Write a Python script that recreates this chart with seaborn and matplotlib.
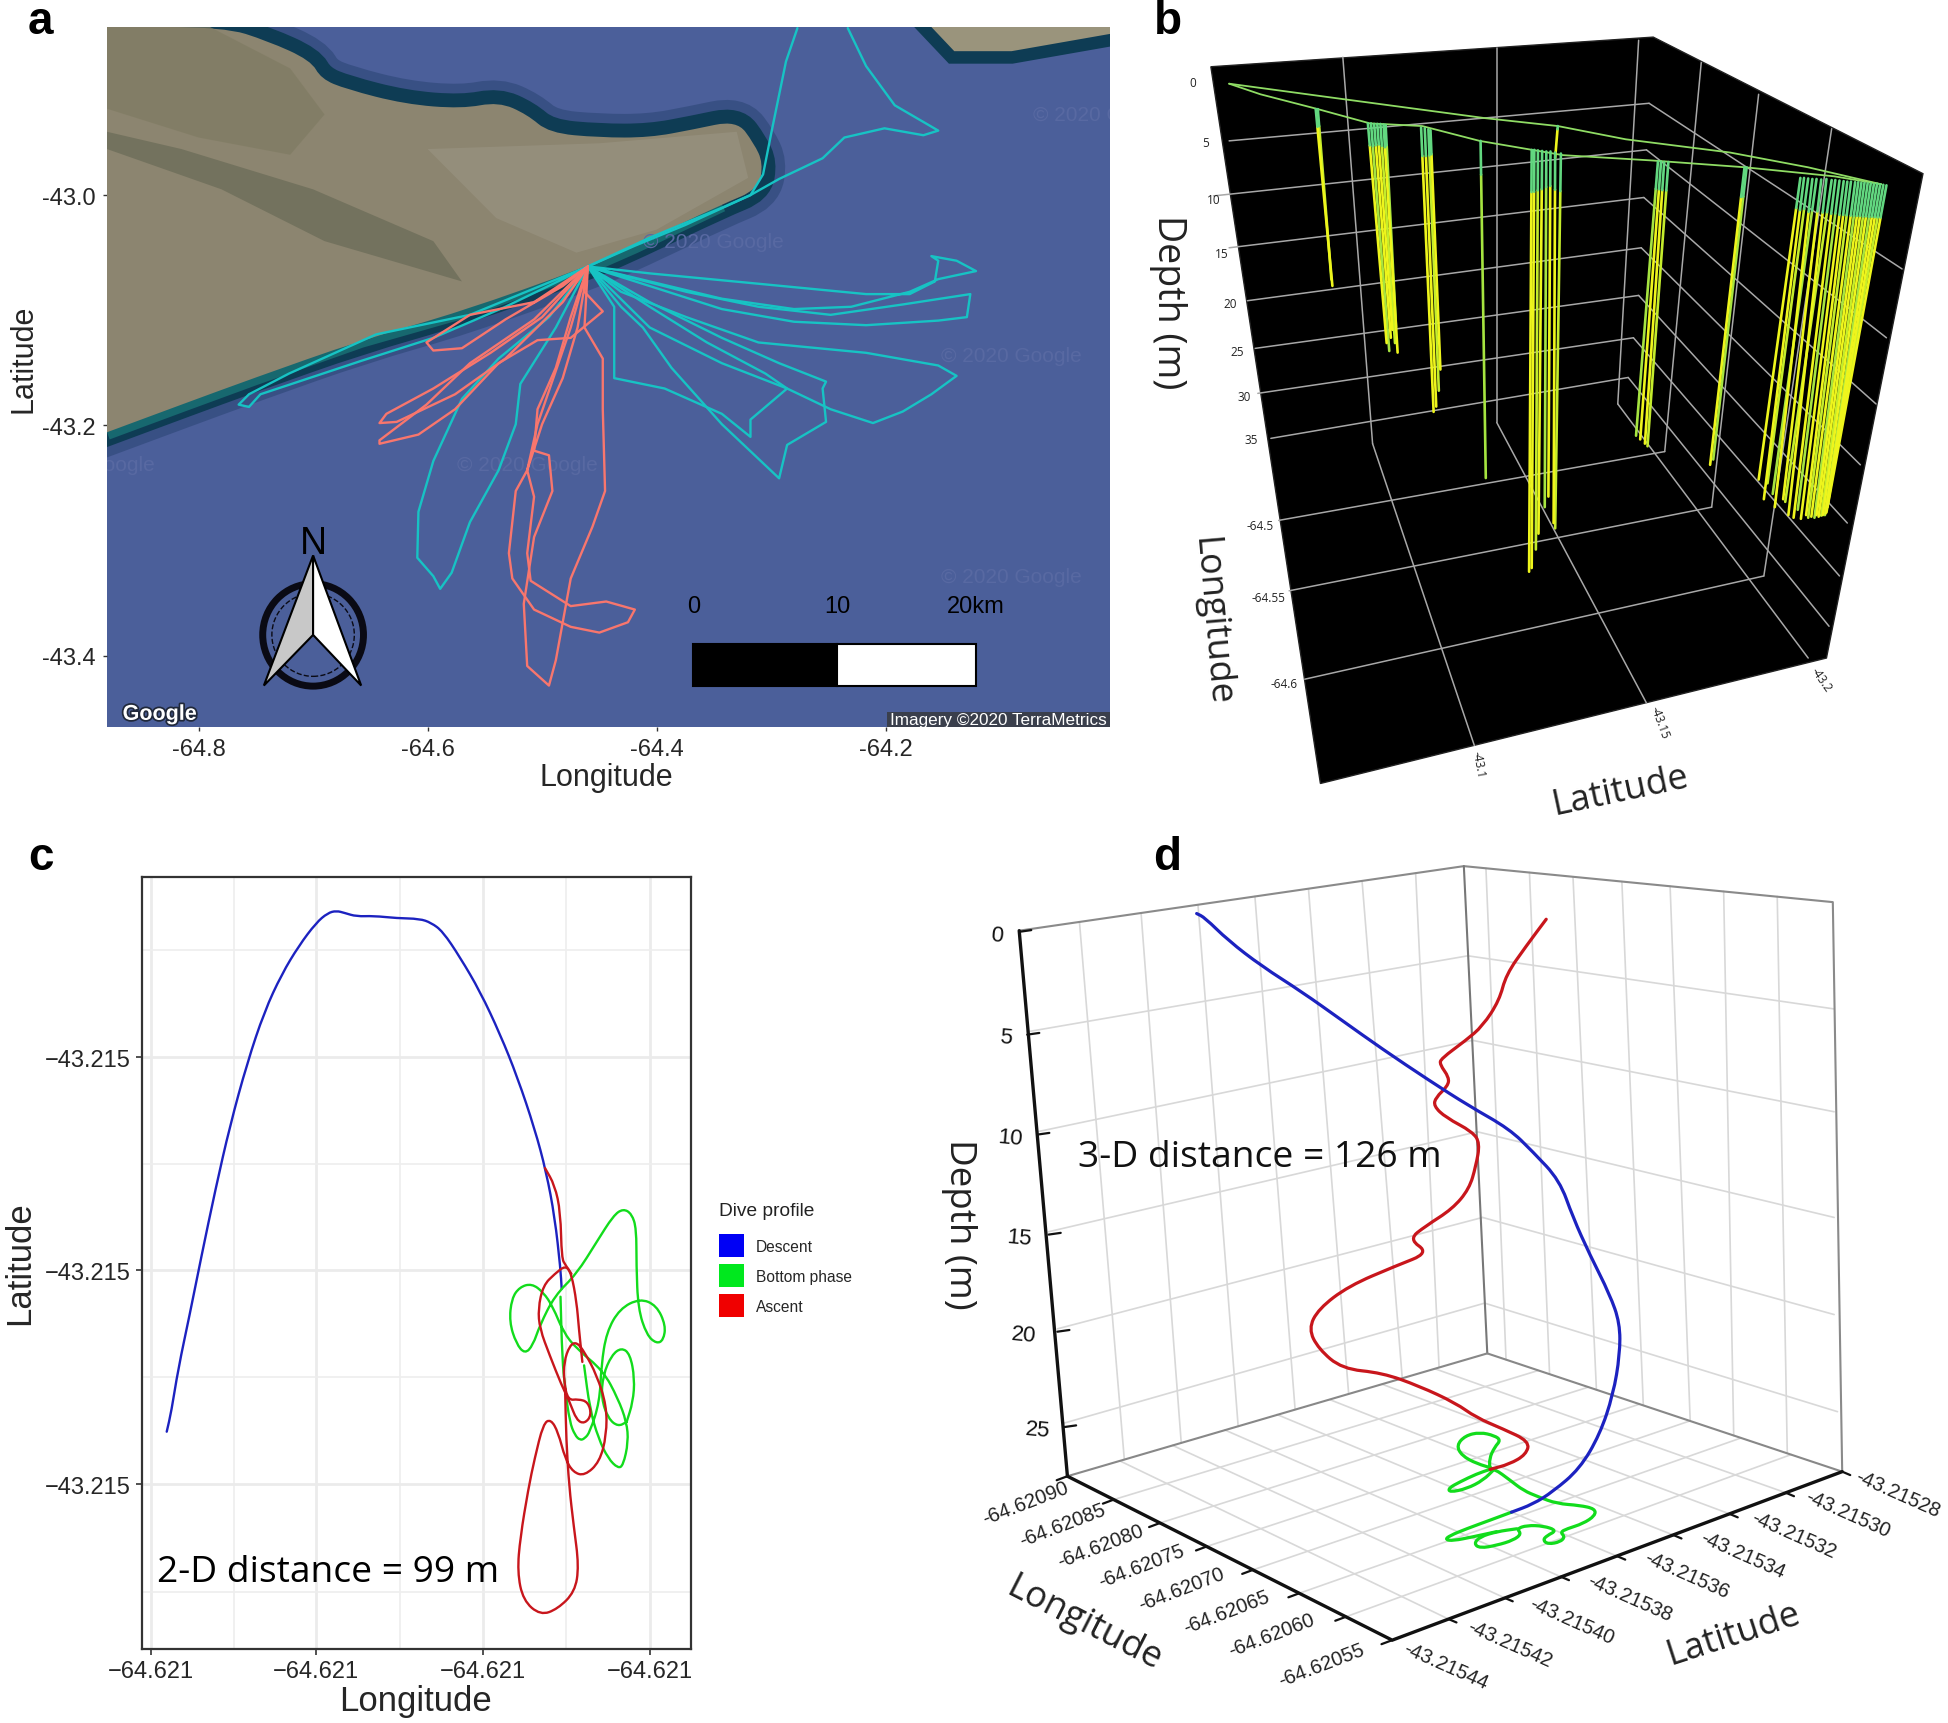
import numpy as np
import pandas as pd
import matplotlib
matplotlib.use("Agg")
import matplotlib.pyplot as plt
from matplotlib.patches import Patch, Ellipse, Polygon, Rectangle, PathPatch
from matplotlib.path import Path
import matplotlib.patheffects as pe
import seaborn as sns

sns.set_theme(style="white")
plt.rcParams["font.family"] = ["Liberation Sans", "DejaVu Sans"]
W, H = 1948, 1724
HUMAN = "Open Sans"

# ---------- panel a: map tracks (lon, lat) ----------
hub = (-64.460, -43.062)
a_teal = [
    [hub, (-64.406, -43.037), (-64.343, -43.011), (-64.318, -43.000), (-64.307, -42.982), (-64.299, -42.942), (-64.287, -42.884), (-64.277, -42.855)],
    [(-64.233, -42.855), (-64.217, -42.888), (-64.192, -42.922), (-64.154, -42.944), (-64.167, -42.948), (-64.201, -42.942), (-64.236, -42.950), (-64.255, -42.968), (-64.293, -42.986), (-64.318, -43.000), (-64.375, -43.026), (-64.419, -43.044), hub],
    [hub, (-64.406, -43.068), (-64.311, -43.077), (-64.217, -43.086), (-64.179, -43.086), (-64.157, -43.075), (-64.154, -43.057), (-64.160, -43.053), (-64.138, -43.057), (-64.121, -43.066), (-64.154, -43.073), (-64.179, -43.084), (-64.230, -43.097), (-64.280, -43.099), (-64.343, -43.090), (-64.406, -43.075), hub],
    [hub, (-64.374, -43.084), (-64.311, -43.097), (-64.248, -43.104), (-64.185, -43.095), (-64.126, -43.086), (-64.129, -43.106), (-64.154, -43.109), (-64.217, -43.113), (-64.280, -43.110), (-64.343, -43.099), (-64.406, -43.079), hub],
    [hub, (-64.431, -43.084), (-64.374, -43.106), (-64.311, -43.128), (-64.217, -43.137), (-64.154, -43.148), (-64.138, -43.157), (-64.160, -43.173), (-64.185, -43.188), (-64.211, -43.198), (-64.248, -43.186), (-64.286, -43.168), (-64.343, -43.146), (-64.406, -43.115), hub],
    [hub, (-64.437, -43.097), (-64.437, -43.159), (-64.393, -43.168), (-64.343, -43.190), (-64.318, -43.210), (-64.318, -43.195), (-64.286, -43.168), (-64.305, -43.155), (-64.356, -43.128), (-64.406, -43.097), hub],
    [hub, (-64.431, -43.097), (-64.412, -43.115), (-64.387, -43.150), (-64.343, -43.199), (-64.293, -43.246), (-64.286, -43.217), (-64.252, -43.197), (-64.255, -43.168), (-64.252, -43.162), (-64.293, -43.146), (-64.343, -43.124), (-64.406, -43.093), hub],
    [hub, (-64.488, -43.115), (-64.519, -43.164), (-64.523, -43.199), (-64.538, -43.239), (-64.563, -43.284), (-64.579, -43.328), (-64.589, -43.342), (-64.595, -43.331), (-64.609, -43.315), (-64.608, -43.275), (-64.595, -43.231), (-64.570, -43.177), (-64.538, -43.142), (-64.494, -43.106), hub],
    [hub, (-64.563, -43.104), (-64.645, -43.121), (-64.721, -43.155), (-64.756, -43.173), (-64.765, -43.182), (-64.756, -43.184), (-64.746, -43.173), (-64.658, -43.144), (-64.595, -43.124), (-64.532, -43.097), (-64.482, -43.073), hub],
]
a_salmon = [
    [hub, (-64.507, -43.093), (-64.563, -43.104), (-64.601, -43.128), (-64.595, -43.135), (-64.570, -43.133), (-64.532, -43.108), (-64.482, -43.079), hub],
    [hub, (-64.500, -43.106), (-64.545, -43.137), (-64.595, -43.168), (-64.636, -43.190), (-64.642, -43.198), (-64.627, -43.197), (-64.576, -43.173), (-64.532, -43.142), (-64.482, -43.093), hub],
    [hub, (-64.507, -43.108), (-64.563, -43.146), (-64.601, -43.182), (-64.642, -43.213), (-64.642, -43.216), (-64.608, -43.208), (-64.576, -43.186), (-64.538, -43.146), (-64.504, -43.126), (-64.475, -43.124), (-64.447, -43.101), (-64.463, -43.084), hub],
    [hub, (-64.469, -43.115), (-64.482, -43.159), (-64.500, -43.199), (-64.513, -43.239), (-64.523, -43.257), (-64.529, -43.311), (-64.526, -43.333), (-64.507, -43.360), (-64.475, -43.375), (-64.450, -43.380), (-64.425, -43.371), (-64.419, -43.360), (-64.444, -43.353), (-64.475, -43.357), (-64.510, -43.335), (-64.513, -43.311), (-64.507, -43.262), (-64.513, -43.239), (-64.504, -43.199), (-64.475, -43.115), hub],
    [hub, (-64.475, -43.106), (-64.488, -43.150), (-64.504, -43.186), (-64.507, -43.222), (-64.494, -43.226), (-64.491, -43.257), (-64.507, -43.297), (-64.516, -43.355), (-64.513, -43.409), (-64.494, -43.426), (-64.488, -43.404), (-64.475, -43.333), (-64.456, -43.288), (-64.445, -43.257), (-64.447, -43.186), (-64.447, -43.142), (-64.463, -43.115), hub],
]
a_land = [(-64.880, -42.854), (-64.778, -42.854), (-64.740, -42.866), (-64.702, -42.883), (-64.693, -42.899), (-64.671, -42.908), (-64.620, -42.921), (-64.570, -42.925), (-64.538, -42.919), (-64.513, -42.930), (-64.494, -42.946), (-64.450, -42.950), (-64.406, -42.950), (-64.368, -42.943), (-64.330, -42.935), (-64.315, -42.955), (-64.307, -42.972), (-64.311, -42.995), (-64.343, -43.008), (-64.419, -43.044), (-64.460, -43.062), (-64.570, -43.101), (-64.658, -43.126), (-64.752, -43.159), (-64.815, -43.182), (-64.880, -43.206)]
a_land_dark = [(-64.880, -42.960), (-64.780, -42.995), (-64.690, -43.040), (-64.570, -43.075), (-64.595, -43.040), (-64.700, -42.995), (-64.815, -42.960), (-64.880, -42.945)]
a_land_nw = [(-64.880, -42.854), (-64.790, -42.854), (-64.720, -42.890), (-64.690, -42.930), (-64.720, -42.965), (-64.800, -42.950), (-64.880, -42.925)]
a_land_light = [(-64.600, -42.960), (-64.450, -42.955), (-64.330, -42.945), (-64.320, -42.985), (-64.400, -43.030), (-64.470, -43.050), (-64.540, -43.020)]
a_land_ne = [(-64.160, -42.854), (-64.004, -42.854), (-64.004, -42.860), (-64.090, -42.875), (-64.140, -42.875)]
a_xticks = [-64.8, -64.6, -64.4, -64.2]
a_yticks = [-43.0, -43.2, -43.4]
a_marks = [(-64.010, -42.930), (-64.090, -43.139), (-64.090, -43.331), (-64.900, -43.234), (-64.513, -43.234), (-64.350, -43.040)]
scale_edges = [-64.368, -64.242, -64.121]
scale_labels = ["0", "10", "20km"]

# ---------- panel b: projected dive lines (top x, top y, bottom x, bottom y) ----------
b_box = [(155, 128), (1003, 72), (1520, 330), (1335, 1245), (365, 1482)]
b_grid = [(190, 268, 995, 197), (160, 372, 990, 285), (190, 470, 985, 375), (225, 570, 980, 470), (240, 660, 975, 560), (245, 745, 965, 640), (270, 830, 955, 715),
          (995, 197, 1480, 510), (990, 285, 1450, 640), (985, 375, 1430, 765), (980, 470, 1400, 880), (975, 560, 1375, 990), (965, 640, 1360, 1090), (955, 715, 1340, 1185),
          (408, 110, 465, 840), (703, 92, 703, 800), (975, 78, 935, 765), (1095, 120, 1025, 855), (1205, 180, 1115, 960), (1345, 245, 1215, 1090),
          (465, 840, 660, 1410), (703, 800, 990, 1330), (935, 765, 1300, 1245), (285, 985, 1025, 855), (305, 1118, 1115, 960), (335, 1285, 1215, 1090)]
b_surface_upper = [(190, 160), (400, 188), (680, 225), (820, 240), (950, 265), (1150, 290), (1300, 318), (1440, 350)]
b_surface_lower = [(190, 160), (250, 180), (360, 208), (460, 235), (560, 240), (670, 268), (830, 295), (1000, 305), (1180, 318), (1350, 335), (1440, 350)]
b_dives = [
    (356, 208, 388, 542), (360, 208, 386, 530),
    (456, 235, 492, 650), (462, 235, 497, 665), (468, 236, 500, 640), (474, 236, 503, 625), (480, 236, 508, 650), (486, 237, 513, 668), (490, 238, 510, 620),
    (558, 243, 582, 780), (565, 244, 587, 770), (572, 246, 592, 740), (576, 248, 595, 700),
    (672, 268, 682, 905),
    (770, 285, 765, 1082), (775, 285, 770, 1075), (782, 286, 778, 1040), (790, 287, 783, 1010), (798, 288, 795, 960), (806, 288, 802, 940), (815, 290, 812, 990), (826, 292, 815, 1000), (820, 240, 815, 300),
    (1012, 307, 970, 825), (1018, 307, 978, 832), (1024, 308, 987, 840), (1032, 308, 992, 845),
    (1178, 318, 1112, 880), (1182, 318, 1118, 870),
    (1285, 338, 1205, 908), (1292, 338, 1215, 945), (1300, 339, 1222, 915), (1308, 340, 1236, 960), (1316, 340, 1232, 935), (1325, 341, 1252, 945), (1335, 340, 1262, 975), (1345, 342, 1256, 950),
    (1352, 342, 1272, 980), (1360, 343, 1280, 965), (1368, 344, 1286, 982), (1375, 345, 1296, 975), (1382, 345, 1300, 980), (1390, 346, 1306, 978), (1396, 346, 1312, 980), (1402, 347, 1316, 975),
    (1408, 347, 1320, 978), (1414, 348, 1325, 976), (1420, 348, 1328, 975), (1426, 349, 1332, 975), (1432, 349, 1333, 972), (1438, 350, 1335, 970), (1444, 351, 1335, 965), (1450, 352, 1337, 960),
]
b_tones = ["bright", "lime", "bright", "soft", "bright"]
b_palette = {"top": "#62d880", "bright": "#eef51c", "lime": "#c4ec2c", "soft": "#a6e440"}
b_depth_ticks = [("0", 120, 158), ("5", 145, 272), ("10", 160, 378), ("15", 175, 480), ("20", 192, 575), ("25", 205, 665), ("30", 218, 750), ("35", 232, 833)]
b_lon_ticks = [("-64.5", 250, 995), ("-64.55", 265, 1130), ("-64.6", 295, 1293)]
b_lat_ticks = [("-43.1", 668, 1445, -80), ("-43.15", 1015, 1365, -70), ("-43.2", 1325, 1285, -55)]

# ---------- panel c: dive plan view (local grid units) ----------
c_xticks = [262, 550, 840, 1130]
c_xminor = [407, 695, 985]
c_yticks = [400, 773, 1147]
c_yminor = [213, 587, 960, 1335]
c_xlabels = ["\u221264.621"] * 4
c_ylabels = ["\u221243.215"] * 3
c_descent = [(290, 1055), (298, 1020), (310, 945), (330, 850), (350, 750), (375, 630), (400, 520), (430, 410), (460, 320), (490, 255), (520, 205), (550, 165), (570, 148), (585, 144), (600, 148), (620, 154), (650, 153), (690, 157), (730, 158), (750, 165), (770, 180), (800, 225), (835, 285), (870, 360), (900, 435), (930, 525), (950, 600), (965, 680), (975, 770), (977, 805)]
c_bottom_a = [(975, 819), (978, 927), (983, 980), (991, 1038), (1000, 1061), (1009, 1070), (1017, 1067), (1026, 1056), (1043, 1003), (1046, 939), (1055, 881), (1078, 840), (1113, 822), (1142, 834), (1158, 869), (1154, 895), (1142, 901), (1125, 886), (1110, 840), (1107, 764), (1107, 700), (1099, 674), (1084, 665), (1067, 677), (1038, 723), (1003, 779), (965, 817), (939, 869), (927, 904), (913, 919), (898, 901), (886, 863), (890, 822), (904, 802), (925, 796), (945, 811), (962, 837), (980, 881), (1003, 910), (1049, 948), (1075, 997), (1090, 1038), (1093, 1073), (1084, 1114), (1075, 1119), (1058, 1102), (1041, 1067), (1026, 1015), (1016, 939)]
c_bottom_b = [(1090, 1038), (1075, 1046), (1058, 1032), (1046, 997), (1049, 956), (1064, 921), (1081, 908), (1096, 919), (1104, 962), (1101, 1003), (1090, 1038)]
c_ascent_a = [(1013, 933), (1007, 875), (1003, 828), (994, 779), (984, 764), (965, 779), (945, 799), (936, 840), (939, 875), (956, 921), (977, 974), (991, 1003), (1003, 1035), (1017, 1041), (1029, 1026), (1023, 1003), (1006, 998), (988, 1000), (981, 968), (981, 933), (991, 904), (1003, 898), (1017, 916), (1038, 956), (1055, 1009), (1055, 1061), (1043, 1108), (1017, 1132), (997, 1126), (983, 1102), (971, 1056), (958, 1033), (945, 1041), (930, 1102), (919, 1155), (905, 1240), (900, 1300), (910, 1350), (940, 1376), (970, 1365), (1000, 1335), (1007, 1290), (998, 1220), (990, 1150), (985, 1070), (983, 980)]
c_ascent_b = [(948, 594), (965, 624), (975, 671), (977, 752), (984, 764), (994, 779)]
phase_names = ["Descent", "Bottom phase", "Ascent"]
phase_legend = ["#0000f5", "#00e81e", "#f00000"]
phase_lines = {"Descent": "#1c22c0", "Bottom phase": "#12dc1c", "Ascent": "#c8161c"}

# ---------- panel d: projected 3-D dive ----------
d_descent = [(443, 148), (455, 155), (490, 195), (540, 240), (600, 285), (660, 335), (720, 385), (790, 440), (850, 485), (910, 525), (945, 565), (985, 615), (1005, 680), (1030, 745), (1060, 815), (1075, 865), (1075, 920), (1065, 990), (1045, 1060), (1015, 1120), (975, 1160), (945, 1182), (913, 1196)]
d_ascent = [(965, 158), (935, 205), (905, 255), (895, 300), (870, 345), (845, 370), (808, 402), (806, 412), (820, 435), (818, 450), (800, 470), (797, 485), (815, 505), (855, 530), (866, 550), (860, 590), (850, 630), (825, 665), (785, 695), (760, 718), (790, 742), (740, 765), (670, 800), (625, 840), (610, 875), (625, 910), (660, 945), (720, 952), (775, 975), (830, 1005), (860, 1030), (900, 1050), (940, 1072), (935, 1095), (910, 1112), (881, 1121)]
d_bottom_a = [(881, 1121), (880, 1102), (888, 1082), (897, 1070), (888, 1062), (866, 1056), (844, 1062), (831, 1079), (839, 1097), (861, 1111), (888, 1120), (911, 1140), (931, 1158), (953, 1169), (981, 1181), (1015, 1184), (1038, 1190), (1038, 1202), (1020, 1216), (996, 1225), (986, 1231), (993, 1239), (986, 1248), (968, 1252), (960, 1245), (966, 1237), (981, 1228), (961, 1220), (936, 1219), (921, 1225), (928, 1234), (916, 1245), (891, 1254), (866, 1259), (857, 1251), (866, 1239), (891, 1230), (921, 1225)]
d_bottom_b = [(913, 1196), (881, 1210), (846, 1225), (821, 1237), (814, 1244), (826, 1246), (856, 1239), (891, 1230)]
d_bottom_c = [(888, 1120), (871, 1140), (846, 1155), (821, 1161), (819, 1154), (836, 1143), (861, 1129), (881, 1121)]
d_left_wall = [(268, 163, 335, 1104), (360, 147, 420, 1075), (445, 133, 505, 1046), (530, 118, 590, 1016), (610, 105, 670, 989), (690, 91, 750, 961), (770, 77, 805, 942),
               (190, 355, 848, 222), (205, 530, 855, 370), (222, 705, 862, 530), (235, 875, 870, 680), (245, 1040, 873, 830)]
d_right_wall = [(875, 69, 905, 929), (940, 76, 970, 954), (1005, 84, 1040, 982), (1078, 92, 1110, 1009), (1150, 100, 1180, 1036), (1230, 109, 1245, 1062), (1310, 118, 1325, 1093),
                (848, 222, 1395, 315), (855, 370, 1395, 495), (862, 530, 1395, 680), (870, 680, 1395, 850), (873, 830, 1400, 1020)]
d_floor_lon_x0 = [319, 388, 458, 527, 596, 666]
d_floor_lon_y0 = [1174, 1215, 1256, 1297, 1338, 1379]
d_floor_lon_x1 = [953, 1028, 1104, 1180, 1256, 1331]
d_floor_lon_y1 = [948, 977, 1007, 1036, 1066, 1095]
d_floor_lat_x0 = [819, 903, 987, 1071, 1155, 1239, 1323]
d_floor_lat_y0 = [1383, 1346, 1309, 1273, 1236, 1199, 1162]
d_floor_lat_x1 = [328, 407, 485, 563, 642, 720, 799]
d_floor_lat_y1 = [1106, 1079, 1052, 1025, 999, 972, 945]
d_depth_ticks = [("0", 145, 185, 178), ("5", 158, 365, 190), ("10", 165, 540, 205), ("15", 178, 715, 222), ("20", 185, 885, 235), ("25", 205, 1052, 245)]
d_lon_labels = ["-64.62090", "-64.62085", "-64.62080", "-64.62075", "-64.62070", "-64.62065", "-64.62060", "-64.62055"]
d_lon_lx = [188, 243, 300, 360, 420, 487, 555, 630]
d_lon_ly = [1180, 1218, 1255, 1290, 1330, 1370, 1410, 1462]
d_lat_labels = ["-43.21528", "-43.21530", "-43.21532", "-43.21534", "-43.21536", "-43.21538", "-43.21540", "-43.21542", "-43.21544"]
d_lat_lx = [1490, 1415, 1335, 1258, 1175, 1090, 1003, 910, 815]
d_lat_ly = [1163, 1198, 1235, 1270, 1305, 1345, 1385, 1425, 1465]


def trace(ax, tracks, color, lw):
    rows = [{"x": x, "y": y, "track": i} for i, tr in enumerate(tracks) for x, y in tr]
    sns.lineplot(data=pd.DataFrame(rows), x="x", y="y", units="track", estimator=None, sort=False,
                 color=color, linewidth=lw, legend=False, ax=ax, solid_joinstyle="round", solid_capstyle="round")
    ax.set_xlabel("")
    ax.set_ylabel("")


def curve_path(track, closed=False):
    """Path with the read points as quadratic control points, so the ink has no corners."""
    p = np.asarray(track, float)
    mids = (p[:-1] + p[1:]) / 2
    verts = [p[0], mids[0]]
    codes = [Path.MOVETO, Path.LINETO]
    for c, m in zip(p[1:-1], mids[1:]):
        verts += [c, m]
        codes += [Path.CURVE3, Path.CURVE3]
    verts.append(p[-1])
    codes.append(Path.LINETO)
    if closed:
        verts.append(p[0])
        codes.append(Path.LINETO)
    return Path(verts, codes)


def smooth(ax, tracks, color, lw, zorder=3):
    for tr in tracks:
        ax.add_patch(PathPatch(curve_path(tr), fc="none", ec=color, lw=lw, zorder=zorder,
                               capstyle="round", joinstyle="round"))


def axes_px(l, t, r, b, **kw):
    return fig.add_axes([l / W, 1 - b / H, (r - l) / W, (b - t) / H], **kw)


def canvas(l, t, r, b, xmax, ymax):
    ax = axes_px(l, t, r, b)
    ax.set_xlim(0, xmax)
    ax.set_ylim(ymax, 0)
    ax.axis("off")
    return ax


def ftext(x, y, s, **kw):
    kw.setdefault("ha", "center")
    kw.setdefault("va", "center")
    fig.text(x / W, 1 - y / H, s, **kw)


fig = plt.figure(figsize=(W / 100, H / 100), dpi=100, facecolor="white")

# ================= a =================
ax = axes_px(107, 28, 1110, 728)
ax.set_facecolor("#4b5f9a")
land_path = curve_path(a_land, closed=True)
ax.add_patch(PathPatch(land_path, fc="#0f3a52", ec="#16345c", lw=34, alpha=0.35, zorder=1))
ax.add_patch(PathPatch(land_path, fc="#0e3c54", ec="#0e3c54", lw=20, zorder=1.1))
ax.add_patch(Polygon(a_land_ne, closed=True, fc="#0e3c54", ec="#0e3c54", lw=18, zorder=1.1))
coast_s = a_land[18:]
ax.plot(*zip(*coast_s), color="#17686f", lw=11, zorder=1.2, solid_capstyle="butt")
ax.add_patch(PathPatch(land_path, fc="#8c8570", ec="none", zorder=1.3))
ax.add_patch(Polygon(a_land_ne, closed=True, fc="#9a947c", ec="none", zorder=1.3))
ax.add_patch(Polygon(a_land_nw, closed=True, fc="#7f7b62", ec="none", alpha=0.7, zorder=1.35))
ax.add_patch(Polygon(a_land_light, closed=True, fc="#989280", ec="none", alpha=0.7, zorder=1.35))
ax.add_patch(Polygon(a_land_dark, closed=True, fc="#6b6c58", ec="none", alpha=0.75, zorder=1.4))
for mx, my in a_marks:
    ax.text(mx, my, "\u00a9 2020 Google", color="#5869a2", fontsize=15, ha="center", va="center", zorder=1.6, clip_on=True)
trace(ax, a_teal, "#17c3c4", 1.7)
trace(ax, a_salmon, "#f8766d", 1.7)
ax.set_xlim(-64.880, -64.004)
ax.set_ylim(-43.462, -42.854)
ax.set_xticks(a_xticks, [f"{v:.1f}" for v in a_xticks], fontsize=17)
ax.set_yticks(a_yticks, [f"{v:.1f}" for v in a_yticks], fontsize=17)
ax.tick_params(length=3, width=1, color="#333333", pad=5, bottom=True, left=True)
for s in ax.spines.values():
    s.set_visible(False)
# north arrow
ax.add_patch(Ellipse((-64.700, -43.382), 0.088, 0.089, fc="none", ec="#0a0a14", lw=5, zorder=3))
ax.add_patch(Ellipse((-64.700, -43.382), 0.072, 0.072, fc="none", ec="#0a0a14", lw=1, ls="--", zorder=3))
ax.add_patch(Polygon([(-64.700, -43.313), (-64.743, -43.426), (-64.700, -43.382)], closed=True, fc="#c8c8c8", ec="black", lw=1.5, zorder=4))
ax.add_patch(Polygon([(-64.700, -43.313), (-64.658, -43.426), (-64.700, -43.382)], closed=True, fc="white", ec="black", lw=1.5, zorder=4))
ax.text(-64.700, -43.302, "N", fontsize=27, ha="center", va="center", color="black", zorder=5)
# scale bar
ax.add_patch(Rectangle((scale_edges[0], -43.426), scale_edges[1] - scale_edges[0], 0.036, fc="black", ec="black", lw=1.5, zorder=4))
ax.add_patch(Rectangle((scale_edges[1], -43.426), scale_edges[2] - scale_edges[1], 0.036, fc="white", ec="black", lw=1.5, zorder=4))
for v, s in zip(scale_edges, scale_labels):
    ax.text(v, -43.357, s, fontsize=17, ha="center", va="center", color="black", zorder=5)
ax.text(-64.834, -43.451, "Google", fontsize=15.5, fontweight="bold", color="white", ha="center", va="center", zorder=5,
        path_effects=[pe.withStroke(linewidth=2.5, foreground="#20283a")])
ax.add_patch(Rectangle((-64.199, -43.462), 0.195, 0.013, fc="#3a3f4c", ec="none", zorder=4))
ax.text(-64.1015, -43.4555, "Imagery \u00a92020 TerraMetrics", fontsize=12.3, color="white", ha="center", va="center", zorder=5)
ftext(606, 778, "Longitude", fontsize=22)
ftext(23, 359, "Latitude", fontsize=22, rotation=90)

# ================= b =================
ax = canvas(1130, 0, 1948, 830, 1568, 1568)
ax.add_patch(Polygon(b_box, closed=True, fc="black", ec="#222222", lw=1, zorder=1))
for x0, y0, x1, y1 in b_grid:
    ax.plot([x0, x1], [y0, y1], color="#a8a8a8", lw=1.1, zorder=2)
rows = []
for i, (x0, y0, x1, y1) in enumerate(b_dives):
    tone = b_tones[i % len(b_tones)]
    rows.append({"x": x0, "y": y0, "dive": i, "part": "top"})
    rows.append({"x": x0 + 0.1 * (x1 - x0), "y": y0 + 0.1 * (y1 - y0), "dive": i, "part": "top"})
    rows.append({"x": x0 + 0.1 * (x1 - x0), "y": y0 + 0.1 * (y1 - y0), "dive": i, "part": tone})
    rows.append({"x": x1, "y": y1, "dive": i, "part": tone})
dives = pd.DataFrame(rows)
sns.lineplot(data=dives, x="x", y="y", units="dive", hue="part", hue_order=["soft", "lime", "bright", "top"],
             palette=b_palette, estimator=None, sort=False, linewidth=1.9, legend=False, ax=ax, zorder=3)
trace(ax, [b_surface_upper, b_surface_lower], "#8fdc64", 1.3)
ax.set_xlim(0, 1568); ax.set_ylim(1568, 0); ax.axis("off")
for s, x, y in b_depth_ticks + b_lon_ticks:
    ax.text(x, y, s, fontsize=8.5, color="#222222", ha="center", va="center", family=HUMAN)
for s, x, y, r in b_lat_ticks:
    ax.text(x, y, s, fontsize=8.5, color="#222222", ha="center", va="center", rotation=r, family=HUMAN)
ax.text(72, 570, "Depth (m)", fontsize=27, rotation=-90, ha="center", va="center", family=HUMAN, color="#222222")
ax.text(155, 1175, "Longitude", fontsize=26, rotation=-85, ha="center", va="center", family=HUMAN, color="#222222")
ax.text(940, 1495, "Latitude", fontsize=26, rotation=12, ha="center", va="center", family=HUMAN, color="#222222")

# ================= c =================
ax = axes_px(142, 878, 691, 1650)
ax.set_facecolor("white")
for v in c_xticks:
    ax.axvline(v, color="#ebebeb", lw=2, zorder=0)
for v in c_xminor:
    ax.axvline(v, color="#eeeeee", lw=1.2, zorder=0)
for v in c_yticks:
    ax.axhline(v, color="#ebebeb", lw=2, zorder=0)
for v in c_yminor:
    ax.axhline(v, color="#eeeeee", lw=1.2, zorder=0)
smooth(ax, [c_descent], phase_lines["Descent"], 1.7, zorder=3)
smooth(ax, [c_bottom_a, c_bottom_b], phase_lines["Bottom phase"], 1.7, zorder=3.1)
smooth(ax, [c_ascent_a, c_ascent_b], phase_lines["Ascent"], 1.7, zorder=3.2)
ax.set_xlim(247, 1202)
ax.set_ylim(1435, 85)
ax.set_xticks(c_xticks, c_xlabels, fontsize=17)
ax.set_yticks(c_yticks, c_ylabels, fontsize=17)
ax.tick_params(length=4, width=1.2, color="#333333", pad=4, bottom=True, left=True)
for s in ax.spines.values():
    s.set_visible(True)
    s.set_color("#333333")
    s.set_linewidth(1.6)
ax.text(570, 1300, "2-D distance = 99 m", fontsize=26.7, ha="center", va="center", family=HUMAN, color="black")
handles = [Patch(fc=c, ec="none", label=n) for n, c in zip(phase_names, phase_legend)]
leg = ax.legend(handles=handles, title="Dive profile", loc="upper left", bbox_to_anchor=((719 - 142) / 549, 1 - (1203 - 878) / 772),
                frameon=False, fontsize=11.2, title_fontsize=13.8, handlelength=1.6, handleheight=1.9, labelspacing=0.45,
                handletextpad=0.75, borderpad=0, borderaxespad=0, alignment="left")
leg._legend_box.sep = 11
leg.get_title().set_color("#222222")
ftext(416, 1702, "Longitude", fontsize=25)
ftext(20, 1263, "Latitude", fontsize=25, rotation=90)

# ================= d =================
ax = canvas(900, 830, 1948, 1724, 1565, 1565)
for x0, y0, x1, y1 in d_left_wall + d_right_wall:
    ax.plot([x0, x1], [y0, y1], color="#d8d8d8", lw=1.2, zorder=1)
for x0, y0, x1, y1 in zip(d_floor_lon_x0, d_floor_lon_y0, d_floor_lon_x1, d_floor_lon_y1):
    ax.plot([x0, x1], [y0, y1], color="#d8d8d8", lw=1.2, zorder=1)
for x0, y0, x1, y1 in zip(d_floor_lat_x0, d_floor_lat_y0, d_floor_lat_x1, d_floor_lat_y1):
    ax.plot([x0, x1], [y0, y1], color="#d8d8d8", lw=1.2, zorder=1)
for pts, c, w in [([(178, 178), (842, 65), (1393, 128), (1407, 1125)], "#8a8a8a", 1.5),
                  ([(842, 65), (877, 918)], "#777777", 1.5),
                  ([(250, 1133), (877, 918), (1407, 1125)], "#888888", 1.5),
                  ([(178, 178), (250, 1133)], "#111111", 2.4),
                  ([(250, 1133), (735, 1420), (1407, 1125)], "#111111", 2.4)]:
    ax.plot(*zip(*pts), color=c, lw=w, zorder=2)
for x, y in zip(d_floor_lon_x0 + [250, 735], d_floor_lon_y0 + [1133, 1420]):
    ax.plot([x, x - 16], [y, y + 7], color="#111111", lw=1.6, zorder=2)
for x, y in zip(d_floor_lat_x0 + [1407], d_floor_lat_y0 + [1125]):
    ax.plot([x, x + 12], [y, y + 6], color="#111111", lw=1.6, zorder=2)
smooth(ax, [d_bottom_a, d_bottom_b, d_bottom_c], "#12dc1c", 2.3, zorder=3)
smooth(ax, [d_ascent], "#c8161c", 2.3, zorder=3.1)
smooth(ax, [d_descent], "#1c22c0", 2.3, zorder=3.2)
for s, x, y, x0 in d_depth_ticks:
    ax.text(x, y, s, fontsize=16, ha="center", va="center", color="#111111", rotation=-5)
    ax.plot([x0, x0 + 18], [y - 5, y - 8], color="#111111", lw=1.6, zorder=2)
for s, x, y in zip(d_lon_labels, d_lon_lx, d_lon_ly):
    ax.text(x, y, s, fontsize=14.5, ha="center", va="center", rotation=21, color="#222222")
for s, x, y in zip(d_lat_labels, d_lat_lx, d_lat_ly):
    ax.text(x, y, s, fontsize=14.5, ha="center", va="center", rotation=-24, color="#222222")
ax.text(537, 575, "3-D distance = 126 m", fontsize=26.8, ha="center", va="center", family=HUMAN, color="#111111")
ax.text(88, 690, "Depth (m)", fontsize=26.5, rotation=-90, ha="center", va="center", family=HUMAN, color="#222222")
ax.text(275, 1390, "Longitude", fontsize=26, rotation=-27, ha="center", va="center", family=HUMAN, color="#222222")
ax.text(1245, 1410, "Latitude", fontsize=26, rotation=18, ha="center", va="center", family=HUMAN, color="#222222")

# panel letters
for s, x, y in [("a", 40, 22), ("b", 1168, 22), ("c", 41, 858), ("d", 1167, 858)]:
    ftext(x, y, s, fontsize=33, fontweight="bold", color="black")

fig.savefig("out.png", dpi=100, facecolor="white")
